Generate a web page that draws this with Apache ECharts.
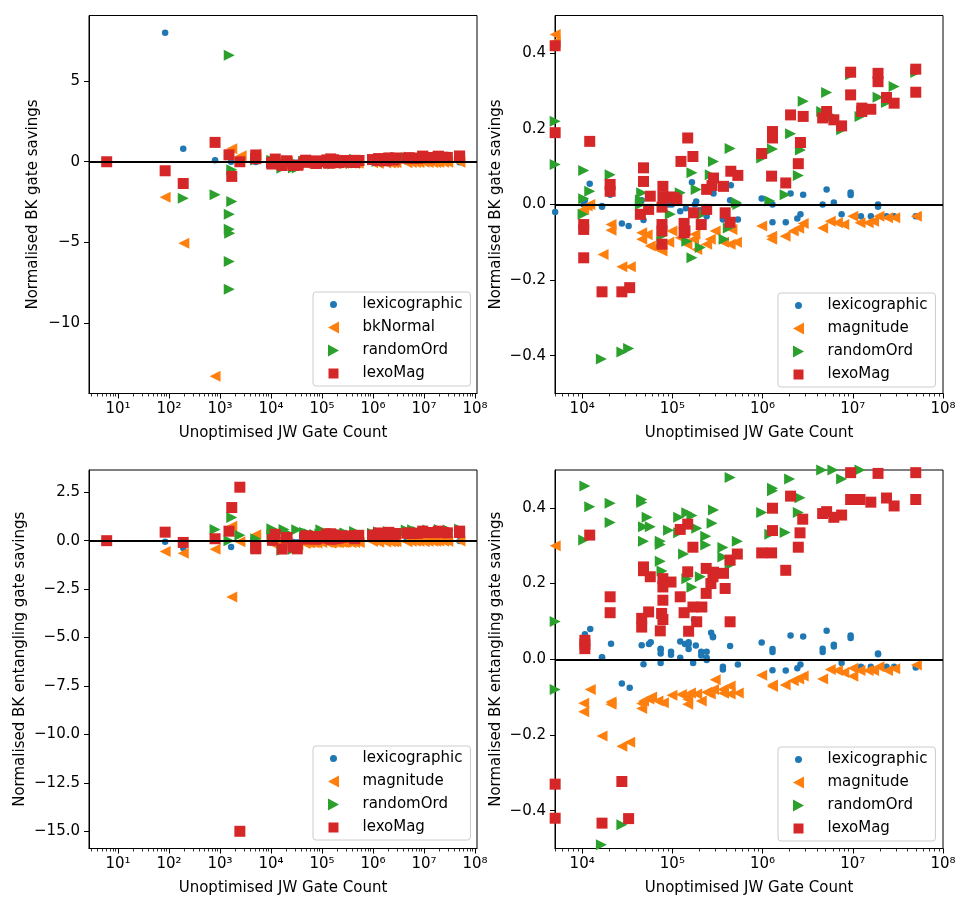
<!DOCTYPE html>
<html><head><meta charset="utf-8">
<script src="https://cdn.jsdelivr.net/npm/echarts@6/dist/echarts.min.js"></script>
<style>html,body{margin:0;padding:0;background:#fff}#c{width:968px;height:908px}</style>
</head><body><div id="c"></div>
<script>
// ---------------- DATA: normalised BK gate savings (top panels) ----------------
const gateLexLow = [[6,0],[84,8.0],[190,0.8],[800,0.1],[1650,0.0],[5020,-0.02]];
const gateLex = [[10720,0.011],[12130,0.055],[10400,0],[16600,-0.004],[16600,-0.006],[20420,0.026],[27540,-0.05],[32730,-0.057],[45710,0.011],[47860,-0.041],[91200,0],[98850,0],[122200,-0.018],[141300,-0.01],[164800,0.059],[183700,0.008],[177800,0],[204200,-0.015],[239900,-0.031],[285800,0.029],[363100,-0.04],[444600,0.051],[436500,0.011],[532100,-0.04],[977200,0.016],[1288000,0],[1288000,-0.047],[1807000,-0.047],[2042000,0.029],[2427000,-0.037],[2630000,-0.026],[2818000,0.026],[4634000,0],[5129000,0.04],[6166000,0.005],[7516000,-0.026],[9462000,0.032],[9462000,0.025],[12300000,-0.031],[15850000,-0.031],[19050000,0],[19050000,-0.006],[23660000,-0.031],[28710000,-0.031],[49890000,-0.031]];
const gateMagLow = [[84,-2.2],[195,-5.05],[800,-13.3],[1700,0.8],[2600,0.37],[5020,0.45],[5020,0.43]];
const gateMag = [[11350,-0.004],[10400,-0.013],[12130,0],[20890,-0.053],[20890,-0.068],[17060,-0.132],[27540,-0.165],[34200,-0.165],[45710,-0.075],[45710,-0.092],[52480,-0.08],[56890,-0.11],[64570,-0.114],[76740,-0.123],[91200,-0.1],[98850,-0.07],[122200,-0.088],[144500,-0.105],[171800,-0.092],[177800,-0.079],[186200,-0.119],[239900,-0.105],[263000,-0.092],[298500,-0.07],[369000,-0.1],[436500,-0.105],[457100,-0.066],[512900,-0.1],[977200,-0.057],[1259000,-0.084],[1259000,-0.092],[1778000,-0.084],[2188000,-0.07],[2512000,-0.063],[2818000,-0.05],[4634000,-0.062],[5623000,-0.044],[6761000,-0.048],[7943000,-0.053],[10000000,-0.031],[12020000,-0.048],[14790000,-0.048],[16980000,-0.044],[19500000,-0.031],[24270000,-0.035],[29170000,-0.035],[50700000,-0.031]];
const gateRandLow = [[190,-2.26],[800,-2.05],[1520,6.6],[1700,-2.46],[1520,-3.25],[1520,-4.18],[1550,-4.43],[1520,-6.19],[1520,-7.91],[1700,-0.5],[5020,0.22],[5020,0.106]];
const gateRand = [[10400,0.09],[12130,0.035],[10400,0.015],[10230,-0.026],[20420,0.079],[45710,0.031],[44160,0.012],[44160,0],[76740,-0.083],[76740,-0.1],[94840,-0.026],[122200,0.031],[144500,-0.097],[164800,0.084],[164800,-0.141],[183700,0.04],[204200,-0.114],[213800,-0.026],[263000,0.079],[285800,0.114],[375000,-0.092],[416900,-0.062],[436500,0.148],[512900,0.005],[532100,0],[977200,0.123],[1288000,0.147],[1202000,0.009],[1778000,0.026],[2042000,0.187],[2489000,0.077],[2630000,0.144],[2818000,0.273],[4519000,0.246],[5129000,0.296],[6026000,0.233],[7516000,0.198],[9462000,0.343],[12020000,0.233],[19050000,0.284],[23660000,0.27],[28710000,0.312],[49890000,0.349],[16330,-0.409],[27540,-0.39],[32730,-0.381]];
const gateLexoMagLow = [[6,0],[84,-0.56],[190,-1.35],[800,1.2],[1500,0.43],[1700,-0.91],[2450,0.0],[5020,0.42],[5020,0.19]];
const gateLexoMag = [[12130,0.167],[20420,0.053],[20420,0.035],[47860,0.097],[47860,0.061],[56890,0.022],[78520,0.048],[78520,0.02],[85000,0.018],[95000,0.02],[105000,0.018],[112000,0.012],[124500,0.114],[147900,0.176],[169000,0.127],[239900,0.04],[285800,0.07],[275000,0.05],[369000,0.048],[444600,0.088],[532100,0.077],[977200,0.135],[1288000,0.193],[1288000,0.176],[1259000,0.075],[1807000,0.057],[2042000,0.237],[2489000,0.108],[2630000,0.164],[2818000,0.233],[4634000,0.229],[5129000,0.246],[6166000,0.224],[7516000,0.208],[9462000,0.35],[9462000,0.29],[12590000,0.255],[12590000,0.246],[15850000,0.252],[19050000,0.347],[19050000,0.325],[23660000,0.283],[28710000,0.268],[49890000,0.358],[49890000,0.297],[44160,-0.026],[54580,-0.013],[76740,-0.053],[76740,-0.07],[76740,-0.105],[76740,-0.007],[134900,-0.05],[134900,-0.075],[138000,-0.07],[171800,-0.022],[208900,-0.053],[239900,-0.013],[384600,-0.022],[436500,-0.047],[10400,-0.053],[10400,-0.066],[10400,-0.141],[16600,-0.231],[27540,-0.231],[33650,-0.22]];

// ---------------- DATA: normalised BK entangling gate savings (bottom panels) ----------------
const entLexLow = [[6,0],[84,-0.05],[190,-0.38],[1650,-0.33]];
const entLex = [[10720,0.066],[12300,0.08],[16600,0.005],[16600,0.004],[20890,0.041],[45710,0.037],[54950,0.04],[57540,0.045],[74130,0.028],[74130,0.025],[96600,0.02],[122200,0.047],[138000,0.04],[151400,0.045],[151400,0.027],[182000,0.036],[173800,0.105],[269200,0.07],[281800,0.06],[281800,0.058],[208900,0.02],[239900,0.02],[436500,0.035],[977200,0.044],[1288000,0.027],[2042000,0.063],[2818000,0.06],[4634000,0.028],[5129000,0.075],[6166000,0.038],[9462000,0.063],[9462000,0.056],[19050000,0.013],[47860,-0.013],[74130,0.015],[74130,-0.01],[96600,0.012],[122200,0.004],[151400,0.04],[169800,-0.01],[208900,0.01],[239900,0.004],[239900,-0.002],[363100,-0.02],[363100,-0.027],[532100,-0.014],[27540,-0.064],[33650,-0.075],[1288000,0.019],[1288000,-0.029],[1807000,-0.03],[2427000,-0.024],[2630000,-0.014],[4634000,0.019],[6166000,0.034],[7516000,-0.01],[12300000,-0.02],[15850000,-0.02],[19050000,0.015],[23660000,-0.02],[28710000,-0.02],[49890000,-0.022]];
const entMagLow = [[84,-0.56],[190,-0.65],[800,-0.44],[1700,0.75],[1700,-2.91],[2450,-0.05],[5020,0.30]];
const entMag = [[12300,-0.08],[10400,-0.116],[10400,-0.139],[20890,-0.113],[20890,-0.119],[16600,-0.203],[27540,-0.23],[33650,-0.219],[45710,-0.117],[45710,-0.13],[47860,-0.11],[54950,-0.105],[58880,-0.1],[69180,-0.11],[79430,-0.115],[98850,-0.095],[125900,-0.093],[144500,-0.098],[158500,-0.089],[147900,-0.106],[147900,-0.119],[186200,-0.092],[208900,-0.11],[239900,-0.087],[263000,-0.092],[285800,-0.08],[298500,-0.054],[369000,-0.09],[436500,-0.092],[537000,-0.089],[363100,-0.08],[436500,-0.071],[977200,-0.042],[1288000,-0.068],[1288000,-0.072],[1778000,-0.068],[2188000,-0.057],[2512000,-0.052],[2818000,-0.044],[4634000,-0.052],[5623000,-0.027],[6761000,-0.03],[7943000,-0.035],[10000000,-0.024],[10000000,-0.045],[12020000,-0.03],[14790000,-0.03],[16980000,-0.03],[19500000,-0.02],[24270000,-0.03],[29170000,-0.025],[50700000,-0.015]];
const entRandLow = [[800,0.58],[1700,1.19],[2450,0.28],[1500,0.0],[5020,0.10],[5020,-0.08]];
const entRand = [[10720,0.458],[12130,0.403],[10400,0.315],[20420,0.412],[20420,0.361],[45710,0.422],[45710,0.414],[52480,0.375],[56890,0.35],[47860,0.35],[47860,0.312],[73450,0.312],[73450,0.303],[73450,0.259],[76740,0.233],[90780,0.341],[117500,0.375],[117500,0.334],[144500,0.387],[164800,0.38],[186200,0.346],[133000,0.278],[144500,0.213],[164800,0.19],[204200,0.218],[234400,0.325],[234400,0.302],[275400,0.359],[285800,0.394],[363100,0.295],[363100,0.27],[436500,0.48],[436500,0.25],[524800,0.312],[977200,0.388],[1288000,0.452],[1288000,0.445],[1202000,0.33],[1778000,0.335],[1995000,0.476],[2600000,0.427],[2489000,0.388],[4519000,0.5],[6026000,0.5],[7516000,0.476],[12020000,0.5],[10400,0.62],[18000,0.58],[32000,0.57],[95000,0.57],[4500000,0.55],[6000000,0.56],[12000000,0.55],[20000000,0.58],[30000000,0.55],[50000000,0.6],[16330,-0.49],[27540,-0.437]];
const entLexoMagLow = [[6,0],[84,0.44],[190,-0.09],[800,0.1],[1500,0.49],[1700,1.71],[2450,2.76],[2450,-15.0],[5020,-0.33],[5020,-0.42]];
const entLexoMag = [[10720,0.05],[10720,0.028],[10720,0.04],[12130,0.328],[20420,0.165],[20420,0.123],[45710,0.108],[45710,0.085],[47860,0.244],[47860,0.234],[56890,0.218],[54580,0.125],[73450,0.075],[78520,0.213],[78520,0.191],[78520,0.156],[76000,0.121],[78520,0.105],[96600,0.204],[122200,0.343],[122200,0.165],[134900,0.123],[147900,0.357],[147900,0.231],[151400,0.074],[169000,0.296],[169000,0.138],[186200,0.099],[212300,0.138],[237100,0.24],[237100,0.174],[267300,0.2],[281800,0.218],[285800,0.23],[369000,0.227],[384600,0.187],[436500,0.262],[436500,0.099],[524800,0.278],[977200,0.281],[1259000,0.281],[1288000,0.399],[1288000,0.34],[1807000,0.235],[2042000,0.431],[2489000,0.296],[2600000,0.334],[2786000,0.37],[4634000,0.385],[5129000,0.39],[6166000,0.375],[7516000,0.381],[9462000,0.493],[9462000,0.422],[12020000,0.422],[15850000,0.415],[19050000,0.491],[23660000,0.426],[28710000,0.405],[49890000,0.493],[49890000,0.422],[16600,-0.433],[27540,-0.323],[32730,-0.421]];

// ---------------- tick values ----------------
const xMajorTicks = [1e1,1e2,1e3,1e4,1e5,1e6,1e7,1e8];
const yTicksTopLeft = [-10,-5,0,5];
const yTicksBottomLeft = [-15,-12.5,-10,-7.5,-5,-2.5,0,2.5];
const yTicksRight = [-0.4,-0.2,0,0.2,0.4];
const xLabel = 'Unoptimised JW Gate Count';
const yLabelGate = 'Normalised BK gate savings';
const yLabelEnt = 'Normalised BK entangling gate savings';

// ---------------- styling ----------------
const FONT = "'DejaVu Sans', sans-serif";
const C = {lex:'#1f77b4', mag:'#ff7f0e', rand:'#2ca02c', lm:'#d62728'};
const SYM = {
  lex: 'circle',
  mag: 'path://M10,0L0,5L10,10Z',
  rand: 'path://M0,0L10,5L0,10Z',
  lm: 'rect'
};
const ICON = {
  lex: 'path://M0,0L0,0M15,15L15,15M7.5,4A3.5,3.5,0,1,1,7.49,4Z',
  mag: 'path://M0,0L0,0M15,15L15,15M13,1.5L2,7.5L13,13.5Z',
  rand: 'path://M0,0L0,0M15,15L15,15M2,1.5L13,7.5L2,13.5Z',
  lm: 'path://M0,0L0,0M15,15L15,15M2.5,2.5H12.5V12.5H2.5Z'
};
const SUP = {'0':'⁰','1':'¹','2':'²','3':'³','4':'⁴','5':'⁵','6':'⁶','7':'⁷','8':'⁸','9':'⁹'};
function powLabel(v){ const e = Math.round(Math.log10(v)); return '10' + String(e).split('').map(c=>SUP[c]).join(''); }
function minorTicks(lo, hi){ const r=[]; for(let e=0;e<=8;e++){ for(let k=2;k<=9;k++){ const v=k*Math.pow(10,e); if(v>=lo&&v<=hi) r.push(v);} } return r; }
function yFmt(dec){ return v => (v<0?'\u2212':'') + Math.abs(v).toFixed(dec); }

const panels = [
  {grid:{left:89, top:15.5, width:388, height:378}, xmin:2.70, xmax:1.094e8, ymin:-14.365, ymax:9.065, yticks:yTicksTopLeft, dec:0, yname:yLabelGate, yGap:48, magName:'bkNormal',
   lex:gateLexLow.concat(gateLex), mag:gateMagLow.concat(gateMag), rand:gateRandLow.concat(gateRand), lm:gateLexoMagLow.concat(gateLexoMag), legend:{left:313, top:292}},
  {grid:{left:555, top:15.5, width:388, height:378}, xmin:5000, xmax:1e8, ymin:-0.5, ymax:0.5, yticks:yTicksRight, dec:1, yname:yLabelGate, yGap:51, magName:'magnitude',
   lex:gateLexLow.concat(gateLex), mag:gateMagLow.concat(gateMag), rand:gateRandLow.concat(gateRand), lm:gateLexoMagLow.concat(gateLexoMag), legend:{left:778, top:293}},
  {grid:{left:89, top:470, width:388, height:378.5}, xmin:2.70, xmax:1.094e8, ymin:-15.888, ymax:3.648, yticks:yTicksBottomLeft, dec:1, yname:yLabelEnt, yGap:61, magName:'magnitude',
   lex:entLexLow.concat(entLex), mag:entMagLow.concat(entMag), rand:entRandLow.concat(entRand), lm:entLexoMagLow.concat(entLexoMag), legend:{left:313, top:746}},
  {grid:{left:555, top:470, width:388, height:378.5}, xmin:5000, xmax:1e8, ymin:-0.5, ymax:0.5, yticks:yTicksRight, dec:1, yname:yLabelEnt, yGap:51, magName:'magnitude',
   lex:entLexLow.concat(entLex), mag:entMagLow.concat(entMag), rand:entRandLow.concat(entRand), lm:entLexoMagLow.concat(entLexoMag), legend:{left:778, top:747}}
];

const option = {animation:false, backgroundColor:'#fff', grid:[], xAxis:[], yAxis:[], series:[], legend:[]};
const textBase = {fontFamily:FONT, color:'#000', fontSize:15};

panels.forEach((p,i)=>{
  option.grid.push(Object.assign({show:true, borderColor:'#000', borderWidth:1, outerBoundsMode:'none', containLabel:false}, p.grid));
  const majors = xMajorTicks.filter(v=>v>=p.xmin&&v<=p.xmax);
  option.xAxis.push({
    type:'log', logBase:10, gridIndex:i, min:p.xmin, max:p.xmax, position:'bottom',
    axisLine:{show:true, onZero:false, lineStyle:{color:'#000', width:1}},
    axisTick:{show:true, inside:false, length:5, customValues:majors, lineStyle:{color:'#000', width:1}},
    axisLabel:{show:true, customValues:majors, formatter:powLabel, margin:8, ...textBase},
    splitLine:{show:false}, minorTick:{show:false},
    name:xLabel, nameLocation:'middle', nameGap:32, nameTextStyle:{...textBase}
  });
  option.xAxis.push({
    type:'log', logBase:10, gridIndex:i, min:p.xmin, max:p.xmax, position:'bottom',
    axisLine:{show:false, onZero:false},
    axisTick:{show:true, inside:false, length:3, customValues:minorTicks(p.xmin,p.xmax), lineStyle:{color:'#000', width:0.8}},
    axisLabel:{show:false}, splitLine:{show:false}
  });
  option.yAxis.push({
    type:'value', gridIndex:i, min:p.ymin, max:p.ymax,
    axisLine:{show:true, onZero:false, lineStyle:{color:'#000', width:1}},
    axisTick:{show:true, inside:false, length:5, customValues:p.yticks, lineStyle:{color:'#000', width:1}},
    axisLabel:{show:true, customValues:p.yticks, formatter:yFmt(p.dec), margin:9, ...textBase},
    splitLine:{show:false},
    name:p.yname, nameLocation:'middle', nameGap:p.yGap, nameRotate:90, nameTextStyle:{...textBase}
  });
  const xi = 2*i, yi = i;
  const common = {type:'scatter', xAxisIndex:xi, yAxisIndex:yi, clip:true, silent:true, emphasis:{disabled:true}};
  option.series.push(Object.assign({name:'lexicographic', data:p.lex, symbol:SYM.lex, symbolSize:6.5, itemStyle:{color:C.lex, opacity:1}}, common));
  option.series.push(Object.assign({name:p.magName, data:p.mag, symbol:SYM.mag, symbolSize:11, itemStyle:{color:C.mag, opacity:1}}, common));
  option.series.push(Object.assign({name:'randomOrd', data:p.rand, symbol:SYM.rand, symbolSize:11, itemStyle:{color:C.rand, opacity:1}}, common));
  option.series.push(Object.assign({name:'lexoMag', data:p.lm, symbol:SYM.lm, symbolSize:11, itemStyle:{color:C.lm, opacity:1},
    markLine:{silent:true, symbol:['none','none'], label:{show:false}, z:10, animation:false,
      lineStyle:{color:'#000', width:2, type:'solid', opacity:1}, emphasis:{disabled:true}, data:[{yAxis:0}]}}, common));
  option.legend.push({
    orient:'vertical', left:p.legend.left, top:p.legend.top, padding:[5,8,5,13],
    itemWidth:28, itemHeight:15, itemGap:8, selectedMode:false,
    backgroundColor:'rgba(255,255,255,0.8)', borderColor:'#cccccc', borderWidth:1, borderRadius:3,
    textStyle:{...textBase, padding:[0,0,0,10]},
    data:[{name:'lexicographic', icon:ICON.lex},{name:p.magName, icon:ICON.mag},{name:'randomOrd', icon:ICON.rand},{name:'lexoMag', icon:ICON.lm}]
  });
});

const chart = echarts.init(document.getElementById('c'), null, {renderer:'canvas'});
chart.setOption(option);
</script>
</body></html>
